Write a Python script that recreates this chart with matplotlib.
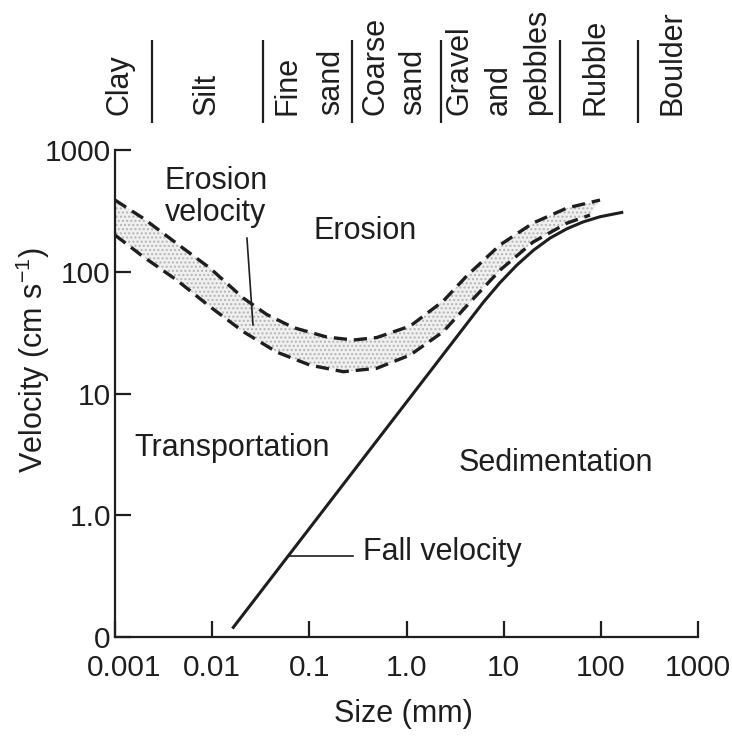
import matplotlib
matplotlib.use("Agg")
import matplotlib.pyplot as plt
from matplotlib.transforms import blended_transform_factory, ScaledTranslation
import numpy as np

plt.rcParams['font.family'] = ['Liberation Sans', 'DejaVu Sans']
plt.rcParams['mathtext.fontset'] = 'custom'
plt.rcParams['mathtext.rm'] = 'Liberation Sans'
plt.rcParams['lines.scale_dashes'] = False

INK = '#1e1e1e'

# Erosion velocity band (grain size in mm, velocity in cm/s)
upper_size = [0.001, 0.00195, 0.00431, 0.00951, 0.0209, 0.0364, 0.0684, 0.151,
              0.283, 0.493, 1.09, 2.39, 4.16, 9.16, 20.0, 44.9, 98.0]
upper_vel = [388, 275, 171, 107, 60.8, 44.6, 34.8, 29.1,
             27.5, 28.8, 35.8, 57.5, 92.3, 166, 251, 334, 388]
lower_size = [0.001, 0.00195, 0.00431, 0.00951, 0.0209, 0.0461, 0.1016, 0.224,
              0.493, 1.09, 2.39, 4.16, 9.16, 20.0, 44.9, 77.3]
lower_vel = [200, 133, 85.5, 51.6, 32.2, 21.9, 17.1, 15.1,
             16.1, 20.7, 32.2, 52.4, 103, 175, 251, 292]

# Fall (settling) velocity
fall_size = [0.0165, 0.389, 1.614, 4.16, 6.17, 9.17,
             13.6, 20.2, 30.0, 44.5, 66.0, 98.0, 164]
fall_vel = [0.120, 3.19, 13.95, 37.3, 56.1, 81.4,
            113, 150, 189, 225, 257, 283, 307]

# Axis ticks
x_ticks = [0.001, 0.01, 0.1, 1, 10, 100, 1000]
x_tick_labels = ['0.001', '0.01', '0.1', '1.0', '10', '100', '1000']
y_ticks = [0.1, 1, 10, 100, 1000]
y_tick_labels = ['0', '1.0', '10', '100', '1000']

# Grain-size classes along the top (label words and their x positions, mm)
class_words = ['Clay', 'Silt', 'Fine', 'sand', 'Coarse', 'sand',
               'Gravel', 'and', 'pebbles', 'Rubble', 'Boulder']
class_word_x = [0.00112, 0.00885, 0.0589, 0.167, 0.485, 1.17,
                3.55, 8.96, 22.0, 87.1, 552]
class_bounds = [0.0024, 0.0333, 0.275, 2.26, 38.0, 241]

FS = 22

fig = plt.figure(figsize=(7.32, 7.36), dpi=100)
ax = fig.add_axes([0.1571, 0.1345, 0.7965, 0.6617])
ax.set_xscale('log')
ax.set_yscale('log')
ax.set_xlim(0.001, 1000)
ax.set_ylim(0.1, 1000)

# Stippled band between the erosion limits
band_x = np.concatenate([upper_size, lower_size[::-1]])
band_y = np.concatenate([upper_vel, lower_vel[::-1]])
ax.fill(band_x, band_y, facecolor='#f0f0f0', edgecolor='#b4b4b4',
        hatch='....', linewidth=0, zorder=1)

ax.plot(upper_size, upper_vel, color=INK, lw=2.4, dashes=(9.5, 5),
        solid_joinstyle='round', zorder=3)
ax.plot(lower_size, lower_vel, color=INK, lw=2.4, dashes=(9.5, 5),
        solid_joinstyle='round', zorder=3)
ax.plot(fall_size, fall_vel, color=INK, lw=2.2, solid_joinstyle='round',
        zorder=3)

# Axes styling
for side in ('top', 'right'):
    ax.spines[side].set_visible(False)
for side in ('left', 'bottom'):
    ax.spines[side].set_linewidth(1.6)
    ax.spines[side].set_color(INK)
ax.set_xticks(x_ticks)
ax.set_xticklabels(x_tick_labels)
ax.set_yticks(y_ticks)
ax.set_yticklabels(y_tick_labels)
ax.minorticks_off()
ax.tick_params(axis='both', direction='in', length=11.5, width=1.6,
               color=INK, labelcolor=INK, labelsize=21.5)
ax.tick_params(axis='x', pad=12)
ax.tick_params(axis='y', pad=3)

# nudge the first size label clear of the "0" velocity label
first = ax.get_xticklabels()[0]
first.set_transform(first.get_transform()
                    + ScaledTranslation(0.09, 0, fig.dpi_scale_trans))

fig.text(0.5505, 0.030, 'Size (mm)', ha='center', va='center',
         fontsize=FS, color=INK)
fig.text(0.045, 0.511, 'Velocity (cm s$^{\\mathregular{-1}}$)', rotation=90,
         ha='center', va='center', fontsize=FS, color=INK)

# Region labels
ax.text(0.374, 216, 'Erosion', ha='center', va='center', fontsize=FS, color=INK)
ax.text(0.016, 3.56, 'Transportation', ha='center', va='center', fontsize=FS, color=INK)
ax.text(34.5, 2.69, 'Sedimentation', ha='center', va='center', fontsize=FS, color=INK)
ax.text(0.00327, 411, 'Erosion\nvelocity', ha='left', va='center',
        fontsize=FS, color=INK, linespacing=1.12)
ax.plot([0.0228, 0.0263], [189, 36.6], color=INK, lw=1.2, zorder=4)
ax.text(0.356, 0.50, 'Fall velocity', ha='left', va='center', fontsize=FS, color=INK)
ax.plot([0.0618, 0.281], [0.46, 0.46], color=INK, lw=1.2, zorder=4)

# Grain-size classes above the plot
trans = blended_transform_factory(ax.transData, ax.transAxes)
for word, xw in zip(class_words, class_word_x):
    ax.text(xw, 1.072, word, rotation=90, ha='center', va='bottom',
            fontsize=FS, color=INK, transform=trans, clip_on=False)
ax.vlines(class_bounds, 1.055, 1.226, colors=INK, linewidth=1.6,
          transform=trans, clip_on=False)

fig.savefig('out.png', dpi=100)
